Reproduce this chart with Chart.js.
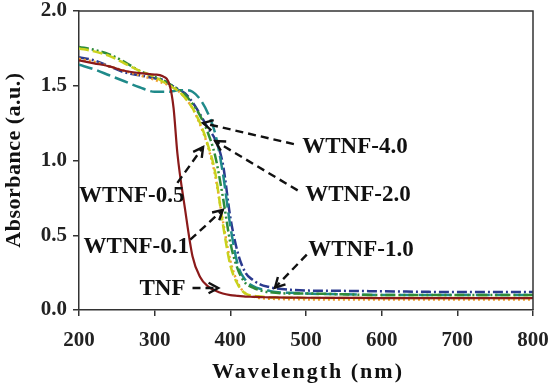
<!DOCTYPE html>
<html>
<head>
    <title>UV-Vis Absorbance</title>
    <script src="https://cdn.jsdelivr.net/npm/chart.js@4/dist/chart.umd.min.js"></script>
    <style>
        body {
            margin: 0;
            padding: 0;
            background-color: #ffffff;
        }
        .chart-container {
            width: 550px;
            height: 386px;
        }
    </style>
</head>
<body>
    <div class="chart-container">
        <canvas id="absChart" width="550" height="386"></canvas>
    </div>

    <script>
        // Wavelength samples (nm)
        const wavelengths = [200, 220, 240, 260, 280, 300, 310, 320, 325, 330, 340, 350, 360, 370, 380, 390, 400, 410, 420, 430, 440, 450, 460, 480, 500, 550, 600, 650, 700, 750, 800];

        // Absorbance values (a.u.)
        const tnf     = [1.67, 1.65, 1.63, 1.60, 1.585, 1.575, 1.565, 1.50, 1.35, 1.05, 0.68, 0.36, 0.22, 0.16, 0.13, 0.11, 0.10, 0.095, 0.09, 0.088, 0.086, 0.085, 0.084, 0.083, 0.082, 0.081, 0.08, 0.08, 0.08, 0.08, 0.08];
        const wtnf01  = [1.75, 1.73, 1.70, 1.65, 1.60, 1.56, 1.53, 1.50, 1.485, 1.47, 1.42, 1.35, 1.25, 1.11, 0.92, 0.58, 0.30, 0.17, 0.11, 0.095, 0.09, 0.085, 0.083, 0.082, 0.081, 0.08, 0.08, 0.08, 0.08, 0.08, 0.08];
        const wtnf05  = [1.68, 1.66, 1.63, 1.60, 1.57, 1.54, 1.52, 1.50, 1.485, 1.47, 1.42, 1.35, 1.24, 1.10, 0.90, 0.60, 0.33, 0.18, 0.11, 0.09, 0.08, 0.076, 0.074, 0.072, 0.071, 0.07, 0.07, 0.07, 0.07, 0.07, 0.07];
        const wtnf10  = [1.76, 1.74, 1.71, 1.66, 1.60, 1.56, 1.54, 1.51, 1.495, 1.48, 1.44, 1.38, 1.30, 1.19, 1.03, 0.76, 0.45, 0.27, 0.18, 0.15, 0.13, 0.12, 0.115, 0.11, 0.11, 0.105, 0.10, 0.10, 0.10, 0.10, 0.10];
        const wtnf20  = [1.64, 1.61, 1.57, 1.53, 1.49, 1.46, 1.46, 1.46, 1.465, 1.47, 1.47, 1.46, 1.41, 1.32, 1.18, 0.92, 0.56, 0.30, 0.20, 0.16, 0.14, 0.13, 0.12, 0.115, 0.11, 0.105, 0.10, 0.10, 0.10, 0.10, 0.10];
        const wtnf40  = [1.69, 1.67, 1.63, 1.59, 1.57, 1.55, 1.54, 1.51, 1.495, 1.48, 1.45, 1.39, 1.31, 1.22, 1.14, 0.98, 0.62, 0.38, 0.25, 0.20, 0.17, 0.155, 0.145, 0.135, 0.13, 0.128, 0.125, 0.122, 0.12, 0.12, 0.12];

        // Axis ticks
        const xTicks = [200, 300, 400, 500, 600, 700, 800];
        const yTicks = [0.0, 0.5, 1.0, 1.5, 2.0];

        // Callout labels: text, label anchor, arrow tail, arrow head (data coords)
        const calloutText  = ['WTNF-4.0', 'WTNF-2.0', 'WTNF-0.5', 'WTNF-0.1', 'WTNF-1.0', 'TNF'];
        const calloutLabel = [[495, 1.09], [499, 0.77], [200, 0.76], [206, 0.42], [503, 0.40], [280, 0.14]];
        const calloutTail  = [[484, 1.11], [489, 0.80], [330, 0.85], [347, 0.47], [501, 0.37], [350, 0.147]];
        const calloutHead  = [[364, 1.25], [380, 1.13], [364, 1.09], [390, 0.67], [459, 0.15], [384, 0.147]];

        const serif = '"Liberation Serif", "Times New Roman", serif';

        function toPoints(values) {
            return wavelengths.map((w, i) => ({ x: w, y: values[i] }));
        }

        // Frame, callouts and axis titles
        const decorations = {
            id: 'decorations',
            afterDraw(chart) {
                const ctx = chart.ctx;
                const area = chart.chartArea;
                const xs = chart.scales.x;
                const ys = chart.scales.y;

                ctx.save();
                ctx.strokeStyle = '#333';
                ctx.lineWidth = 1.5;
                ctx.beginPath();
                ctx.moveTo(area.left, area.top);
                ctx.lineTo(area.right, area.top);
                ctx.lineTo(area.right, area.bottom);
                ctx.stroke();

                // arrows
                ctx.strokeStyle = '#111';
                ctx.lineWidth = 2.4;
                calloutText.forEach((t, i) => {
                    const x0 = xs.getPixelForValue(calloutTail[i][0]);
                    const y0 = ys.getPixelForValue(calloutTail[i][1]);
                    const x1 = xs.getPixelForValue(calloutHead[i][0]);
                    const y1 = ys.getPixelForValue(calloutHead[i][1]);
                    ctx.setLineDash([8, 5]);
                    ctx.beginPath();
                    ctx.moveTo(x0, y0);
                    ctx.lineTo(x1, y1);
                    ctx.stroke();
                    const a = Math.atan2(y1 - y0, x1 - x0);
                    ctx.setLineDash([]);
                    ctx.beginPath();
                    ctx.moveTo(x1 - 11 * Math.cos(a - 0.5), y1 - 11 * Math.sin(a - 0.5));
                    ctx.lineTo(x1, y1);
                    ctx.lineTo(x1 - 11 * Math.cos(a + 0.5), y1 - 11 * Math.sin(a + 0.5));
                    ctx.stroke();
                });

                // labels
                ctx.fillStyle = '#111';
                ctx.font = 'bold 23px ' + serif;
                ctx.textAlign = 'left';
                ctx.textBaseline = 'middle';
                calloutText.forEach((t, i) => {
                    ctx.fillText(t, xs.getPixelForValue(calloutLabel[i][0]), ys.getPixelForValue(calloutLabel[i][1]));
                });

                // axis titles
                ctx.font = 'bold 22px ' + serif;
                ctx.textAlign = 'center';
                ctx.letterSpacing = '2px';
                ctx.fillText('Wavelength (nm)', (area.left + area.right) / 2 + 2, 372);
                ctx.letterSpacing = '0.5px';
                ctx.translate(14, 160);
                ctx.rotate(-Math.PI / 2);
                ctx.fillText('Absorbance (a.u.)', 0, 0);
                ctx.restore();
            }
        };

        const ctx = document.getElementById('absChart').getContext('2d');
        const absChart = new Chart(ctx, {
            type: 'line',
            data: {
                datasets: [
                    { label: 'TNF', data: toPoints(tnf), borderColor: '#8b1a1a', borderWidth: 2.2, borderDash: [] },
                    { label: 'WTNF-0.1', data: toPoints(wtnf01), borderColor: '#c8d21e', borderWidth: 2.5, borderDash: [10, 4] },
                    { label: 'WTNF-0.5', data: toPoints(wtnf05), borderColor: '#f0a030', borderWidth: 2.5, borderDash: [2, 3] },
                    { label: 'WTNF-1.0', data: toPoints(wtnf10), borderColor: '#2e8b3a', borderWidth: 2.5, borderDash: [10, 3, 2, 3, 2, 3] },
                    { label: 'WTNF-2.0', data: toPoints(wtnf20), borderColor: '#1f8a8a', borderWidth: 2.5, borderDash: [14, 5] },
                    { label: 'WTNF-4.0', data: toPoints(wtnf40), borderColor: '#2b3a8f', borderWidth: 2.5, borderDash: [10, 3, 2, 3] }
                ]
            },
            options: {
                responsive: false,
                animation: false,
                devicePixelRatio: 1,
                layout: { padding: { top: 11, right: 17, left: 0, bottom: 0 } },
                elements: { point: { radius: 0 }, line: { cubicInterpolationMode: 'monotone', fill: false } },
                plugins: { legend: { display: false }, tooltip: { enabled: false } },
                scales: {
                    x: {
                        type: 'linear',
                        min: 200,
                        max: 800,
                        afterBuildTicks: (scale) => { scale.ticks = xTicks.map(v => ({ value: v })); },
                        afterFit: (scale) => { scale.height = 76; scale.paddingLeft = 0; scale.paddingRight = 0; },
                        border: { display: true, color: '#333', width: 1.5 },
                        grid: { drawOnChartArea: false, drawTicks: true, tickLength: 6, color: '#333', lineWidth: 1.5 },
                        ticks: {
                            color: '#222',
                            padding: 12,
                            maxRotation: 0,
                            font: { family: serif, size: 21, weight: 'bold' },
                            callback: (v) => String(v)
                        }
                    },
                    y: {
                        min: 0,
                        max: 2,
                        afterBuildTicks: (scale) => { scale.ticks = yTicks.map(v => ({ value: v })); },
                        afterFit: (scale) => { scale.width = 79; scale.paddingTop = 0; scale.paddingBottom = 0; },
                        border: { display: true, color: '#333', width: 1.5 },
                        grid: { drawOnChartArea: false, drawTicks: true, tickLength: 6, color: '#333', lineWidth: 1.5 },
                        ticks: {
                            color: '#222',
                            padding: 6,
                            font: { family: serif, size: 21, weight: 'bold' },
                            callback: (v) => Number(v).toFixed(1)
                        }
                    }
                }
            },
            plugins: [decorations]
        });
    </script>
</body>
</html>
